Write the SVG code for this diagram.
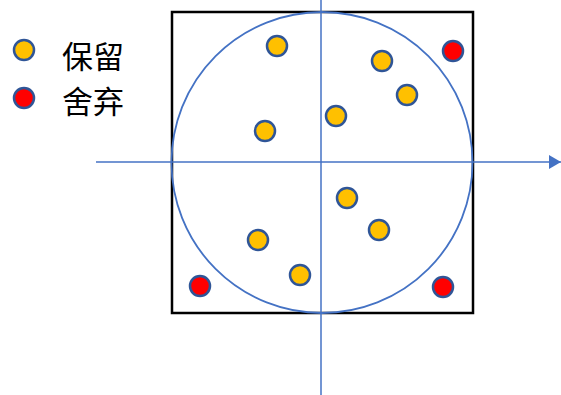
<svg xmlns="http://www.w3.org/2000/svg" width="561" height="395" viewBox="0 0 561 395">
<style>
.keep{fill:#FFC000;stroke:#2F5597;stroke-width:2.5}
.drop{fill:#FF0000;stroke:#2F5597;stroke-width:2.5}
.axis{stroke:#4472C4;stroke-width:1.5;fill:none}
.lbl{font-family:"Noto Sans CJK SC","Noto Sans",sans-serif;font-size:31px;fill:#000}
</style>
<defs>
<marker id="arr" markerWidth="12" markerHeight="14" refX="12" refY="7" orient="auto" markerUnits="userSpaceOnUse">
<path d="M0,0 L12,7 L0,14 Z" fill="#4472C4"/>
</marker>
</defs>
<rect x="172" y="12" width="301" height="301" fill="#fff" stroke="#000" stroke-width="2.5"/>
<circle cx="322" cy="162.5" r="150.5" fill="none" stroke="#4472C4" stroke-width="1.8"/>
<g id="connectors">
<line class="axis" x1="96" y1="162" x2="561" y2="162" marker-end="url(#arr)"/>
<line class="axis" x1="321" y1="0" x2="321" y2="395" stroke="#6F94D4"/>
</g>
<g id="legend">
<g id="legend-keep"><circle class="keep" cx="24" cy="50" r="10"/><text class="lbl" x="62" y="68">保留</text></g>
<g id="legend-drop"><circle class="drop" cx="24" cy="98" r="10"/><text class="lbl" x="62" y="113">舍弃</text></g>
</g>
<g id="p1"><circle class="keep" cx="277" cy="46" r="10"/></g>
<g id="p2"><circle class="keep" cx="382" cy="61" r="10"/></g>
<g id="p3"><circle class="keep" cx="407" cy="95" r="10"/></g>
<g id="p4"><circle class="keep" cx="336" cy="116" r="10"/></g>
<g id="p5"><circle class="keep" cx="265" cy="131" r="10"/></g>
<g id="p6"><circle class="keep" cx="347" cy="198" r="10"/></g>
<g id="p7"><circle class="keep" cx="379" cy="230" r="10"/></g>
<g id="p8"><circle class="keep" cx="258" cy="240" r="10"/></g>
<g id="p9"><circle class="keep" cx="300" cy="275" r="10"/></g>
<g id="r1"><circle class="drop" cx="453" cy="51" r="10"/></g>
<g id="r2"><circle class="drop" cx="200" cy="286" r="10"/></g>
<g id="r3"><circle class="drop" cx="443" cy="287" r="10"/></g>
</svg>
